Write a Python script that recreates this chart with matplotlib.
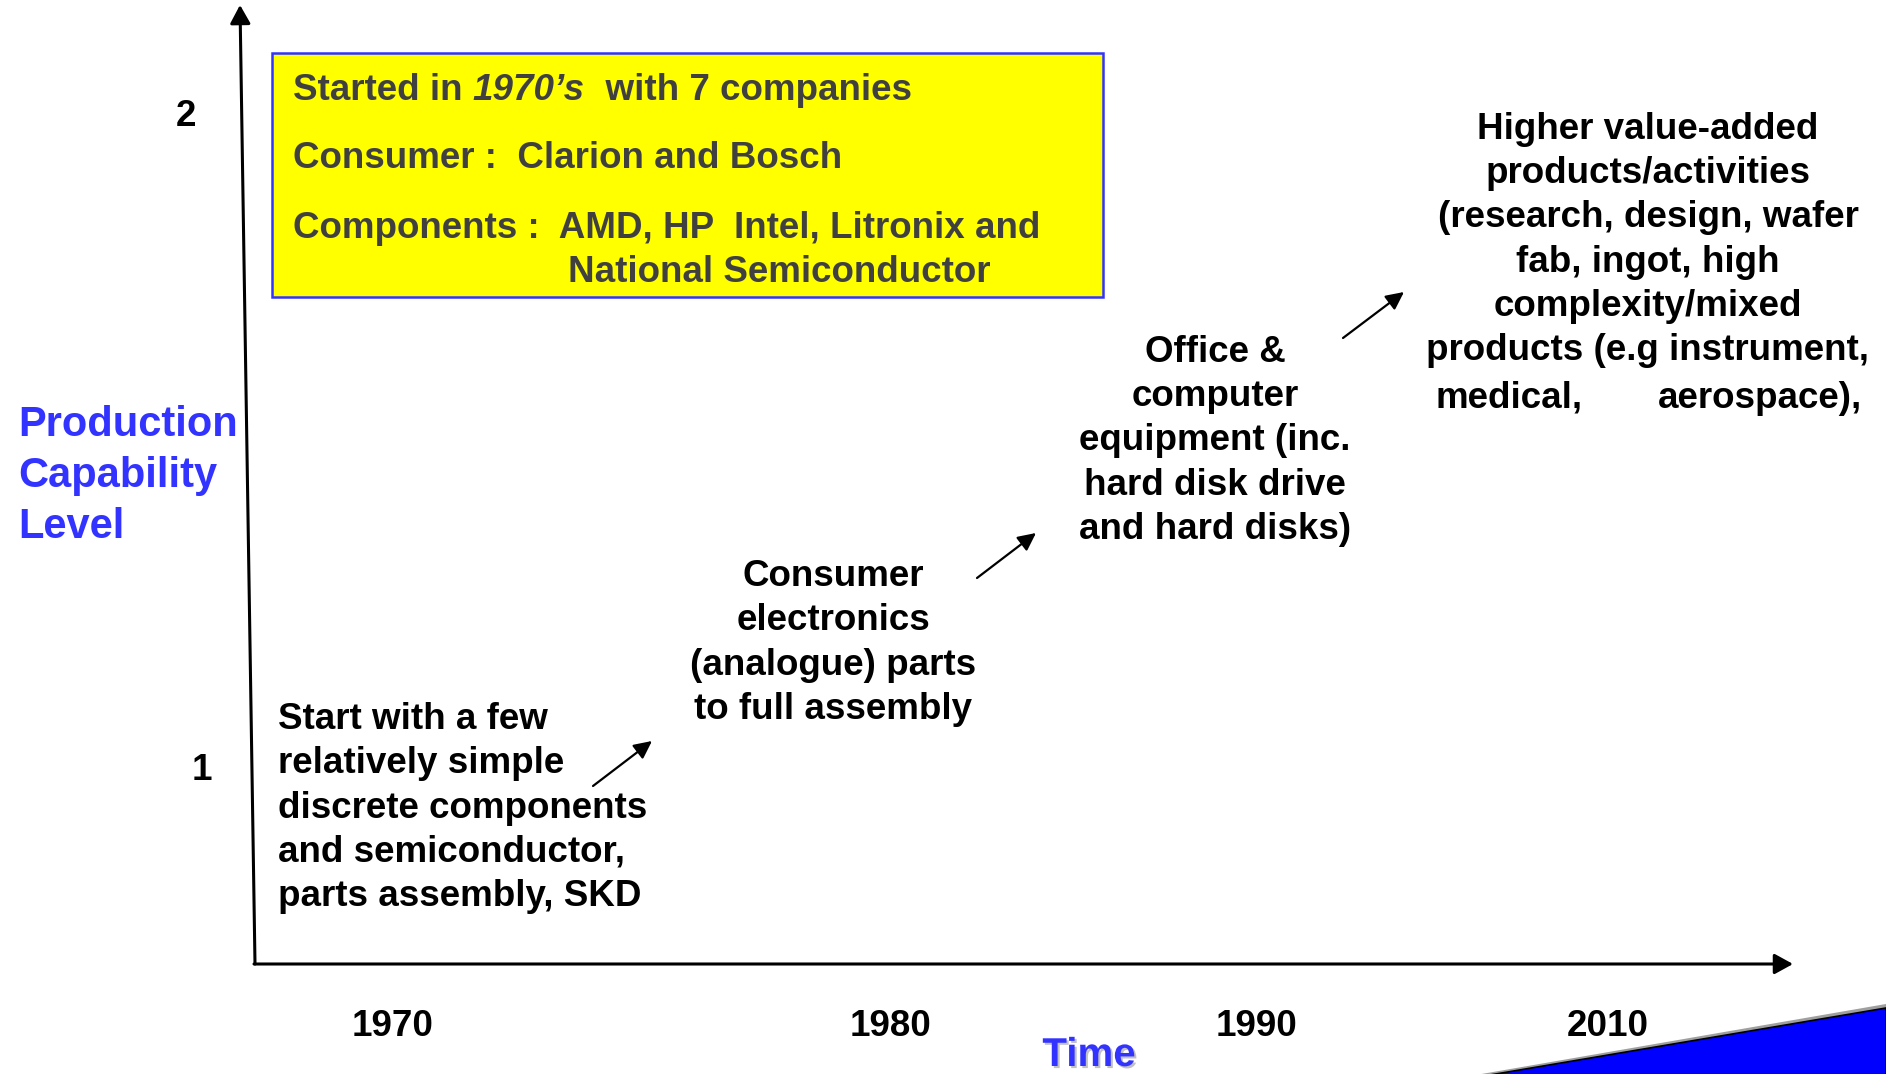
import matplotlib
matplotlib.use('agg')
import matplotlib.pyplot as plt
import matplotlib.patheffects as pe
from matplotlib.patches import Rectangle, Polygon

plt.rcParams['font.family'] = ['Liberation Sans', 'DejaVu Sans']

# chart content
YEARS = ["1970", "1980", "1990", "2010"]
LEVELS = ["1", "2"]
Y_TITLE = "Production\nCapability\nLevel"
X_TITLE = "Time"
STAGES = [
    "Start with a few\nrelatively simple\ndiscrete components\nand semiconductor,\nparts assembly, SKD",
    "Consumer\nelectronics\n(analogue) parts\nto full assembly",
    "Office &\ncomputer\nequipment (inc.\nhard disk drive\nand hard disks)",
    "Higher value-added\nproducts/activities\n(research, design, wafer\nfab, ingot, high\ncomplexity/mixed\nproducts (e.g instrument,",
]
LAST_LINE = ["medical,", "aerospace),"]
BOX_LINE1 = ["Started in ", "1970\u2019s", "  with 7 companies"]
BOX_LINES = ["Consumer :  Clarion and Bosch",
             "Components :  AMD, HP  Intel, Litronix and"]
BOX_LAST = "National Semiconductor"

# layout (pixel coordinates of the 1886x1074 canvas)
W, H = 1886, 1074
YEAR_X = [393, 890, 1257, 1608]
LEVEL_POS = [(202, 771), (186, 117)]
STAGE_POS = [(278, 808, 'left'), (833, 643, 'center'), (1215, 441, 'center'), (1648, 240, 'center')]
STEP_ARROWS = [((593, 786), (652, 741)), ((977, 578), (1036, 533)), ((1343, 338), (1404, 292))]

FS = 26.5
BLUE = '#3333ff'

fig = plt.figure(figsize=(W / 100, H / 100), dpi=100)
ax = fig.add_axes([0, 0, 1, 1])
ax.set_xlim(0, W)
ax.set_ylim(H, 0)
ax.axis('off')

# axes arrows
ax.annotate('', xy=(240, 5), xytext=(255, 964),
            arrowprops=dict(arrowstyle='-|>,head_length=0.4,head_width=0.22', color='black',
                            lw=2.2, mutation_scale=28, shrinkA=0, shrinkB=0))
ax.annotate('', xy=(1793, 964), xytext=(254, 964),
            arrowprops=dict(arrowstyle='-|>,head_length=0.4,head_width=0.22', color='black',
                            lw=2.2, mutation_scale=28, shrinkA=0, shrinkB=0))

# axis labels
ax.text(18, 476, Y_TITLE, color=BLUE, fontsize=30, fontweight='bold',
        ha='left', va='center', linespacing=1.35)
ax.text(1089, 1055, X_TITLE, color=BLUE, fontsize=29, fontweight='bold', ha='center', va='center',
        path_effects=[pe.SimplePatchShadow(offset=(1.5, -1.5), shadow_rgbFace='#999999', alpha=0.6),
                      pe.Normal()])

for lab, (x, y) in zip(LEVELS, LEVEL_POS):
    ax.text(x, y, lab, fontsize=FS, fontweight='bold', ha='center', va='center')

for lab, x in zip(YEARS, YEAR_X):
    ax.text(x, 1026, lab, fontsize=FS, fontweight='bold', ha='center', va='center')

# stage texts
for txt, (x, y, ha) in zip(STAGES, STAGE_POS):
    ax.text(x, y, txt, fontsize=FS, fontweight='bold', ha=ha, va='center',
            multialignment=ha, linespacing=1.345)
ax.text(1435, 398, LAST_LINE[0], fontsize=FS, fontweight='bold', ha='left', va='center')
ax.text(1862, 398, LAST_LINE[1], fontsize=FS, fontweight='bold', ha='right', va='center')

for tail, tip in STEP_ARROWS:
    ax.annotate('', xy=tip, xytext=tail,
                arrowprops=dict(arrowstyle='-|>,head_length=0.45,head_width=0.22', color='black',
                                lw=1.6, mutation_scale=24, shrinkA=0, shrinkB=0))

# yellow info box
ax.add_patch(Rectangle((272, 53), 831, 244, facecolor='#ffff00', edgecolor=BLUE, lw=1.8))
GRAY = '#404040'
renderer = fig.canvas.get_renderer()
x = 293
for i, piece in enumerate(BOX_LINE1):
    t = ax.text(x, 90, piece, fontsize=FS, fontweight='bold', color=GRAY,
                style='italic' if i == 1 else 'normal', ha='left', va='center')
    x += t.get_window_extent(renderer).width
for txt, y in zip(BOX_LINES, [158, 228]):
    ax.text(293, y, txt, fontsize=FS, fontweight='bold', color=GRAY, ha='left', va='center')
ax.text(568, 273, BOX_LAST, fontsize=FS, fontweight='bold', color=GRAY, ha='left', va='center')

# blue corner decoration
ax.add_patch(Polygon([(1470, 1076), (W, 1004), (W, H + 2), (1470, H + 2)], closed=True,
                     facecolor='#9f9f9f', edgecolor='none'))
ax.add_patch(Polygon([(1484, 1076), (W, 1008), (W, H + 2), (1484, H + 2)], closed=True,
                     facecolor='#0000ff', edgecolor='black', lw=1.2))

fig.savefig('out.png', dpi=100)
